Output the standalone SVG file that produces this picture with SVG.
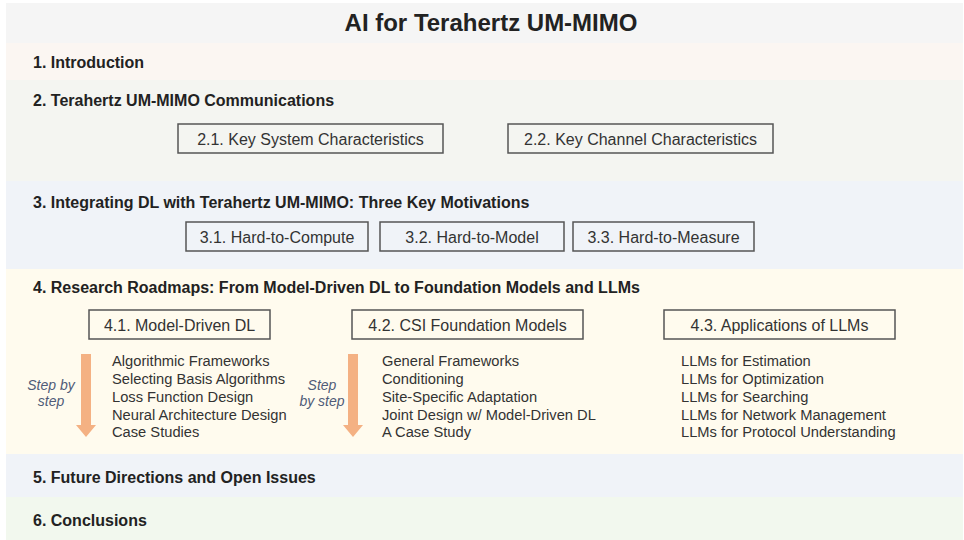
<svg xmlns="http://www.w3.org/2000/svg" width="964" height="540" viewBox="0 0 964 540">
<defs>
<style>
.title{font-family:"Liberation Sans",Arial,sans-serif;font-weight:bold;font-size:24px;fill:#222;text-anchor:middle}
.h{font-family:"Liberation Sans",Arial,sans-serif;font-weight:bold;font-size:16px;fill:#222}
.box{fill:none;stroke:#555;stroke-width:1.5}
.bt{font-family:"Liberation Sans",Arial,sans-serif;font-size:16px;fill:#333;text-anchor:middle}
.it{font-family:"Liberation Sans",Arial,sans-serif;font-size:14.7px;fill:#333}
.step{font-family:"Liberation Sans",Arial,sans-serif;font-style:italic;font-size:14px;fill:#4f5b78;text-anchor:middle}
.arrow{fill:#f4b183}
</style>
</defs>
<rect width="964" height="540" fill="#ffffff"/>
<g id="bands">
<rect x="6" y="3" width="957" height="40" fill="#f5f5f5"/>
<rect x="6" y="43" width="957" height="37" fill="#fbf6f2"/>
<rect x="6" y="80" width="957" height="101" fill="#f4f5f1"/>
<rect x="6" y="181" width="957" height="88" fill="#f0f3f8"/>
<rect x="6" y="269" width="957" height="185" fill="#fffbee"/>
<rect x="6" y="454" width="957" height="43" fill="#f0f3f8"/>
<rect x="6" y="497" width="957" height="43" fill="#f2f8ee"/>
</g>
<g id="title"><text class="title" x="491" y="31">AI for Terahertz UM-MIMO</text></g>
<g id="s1"><text class="h" x="33" y="68">1. Introduction</text></g>
<g id="s2"><text class="h" x="33" y="106">2. Terahertz UM-MIMO Communications</text></g>
<g id="s2-1"><rect class="box" x="178" y="124" width="265" height="29"/><text class="bt" x="310.5" y="144.5">2.1. Key System Characteristics</text></g>
<g id="s2-2"><rect class="box" x="508" y="124" width="265" height="29"/><text class="bt" x="640.5" y="144.5">2.2. Key Channel Characteristics</text></g>
<g id="s3"><text class="h" x="33" y="208">3. Integrating DL with Terahertz UM-MIMO: Three Key Motivations</text></g>
<g id="s3-1"><rect class="box" x="186" y="222" width="182" height="29"/><text class="bt" x="277" y="242.5">3.1. Hard-to-Compute</text></g>
<g id="s3-2"><rect class="box" x="380" y="222" width="184" height="29"/><text class="bt" x="472" y="242.5">3.2. Hard-to-Model</text></g>
<g id="s3-3"><rect class="box" x="573" y="222" width="181" height="29"/><text class="bt" x="663.5" y="242.5">3.3. Hard-to-Measure</text></g>
<g id="s4"><text class="h" x="33" y="293">4. Research Roadmaps: From Model-Driven DL to Foundation Models and LLMs</text></g>
<g id="s4-1"><rect class="box" x="89" y="310" width="181" height="29"/><text class="bt" x="179.5" y="330.5">4.1. Model-Driven DL</text></g>
<g id="s4-2"><rect class="box" x="352" y="310" width="231" height="29"/><text class="bt" x="467.5" y="330.5">4.2. CSI Foundation Models</text></g>
<g id="s4-3"><rect class="box" x="664" y="310" width="231" height="29"/><text class="bt" x="779.5" y="330.5">4.3. Applications of LLMs</text></g>
<g id="list1">
<text class="it" x="112" y="366">Algorithmic Frameworks</text>
<text class="it" x="112" y="384">Selecting Basis Algorithms</text>
<text class="it" x="112" y="402">Loss Function Design</text>
<text class="it" x="112" y="419.5">Neural Architecture Design</text>
<text class="it" x="112" y="437">Case Studies</text>
</g>
<g id="list2">
<text class="it" x="382" y="366">General Frameworks</text>
<text class="it" x="382" y="384">Conditioning</text>
<text class="it" x="382" y="402">Site-Specific Adaptation</text>
<text class="it" x="382" y="419.5">Joint Design w/ Model-Driven DL</text>
<text class="it" x="382" y="437">A Case Study</text>
</g>
<g id="list3">
<text class="it" x="681" y="366">LLMs for Estimation</text>
<text class="it" x="681" y="384">LLMs for Optimization</text>
<text class="it" x="681" y="402">LLMs for Searching</text>
<text class="it" x="681" y="419.5">LLMs for Network Management</text>
<text class="it" x="681" y="437">LLMs for Protocol Understanding</text>
</g>
<g id="step1">
<polygon class="arrow" points="81,354 91,354 91,425 96,425 86,437 76,425 81,425"/>
<text class="step" x="51" y="390">Step by</text>
<text class="step" x="51" y="406">step</text>
</g>
<g id="step2">
<polygon class="arrow" points="348,354 358,354 358,425 363,425 353,437 343,425 348,425"/>
<text class="step" x="322" y="390">Step</text>
<text class="step" x="322" y="406">by step</text>
</g>
<g id="s5"><text class="h" x="33" y="483">5. Future Directions and Open Issues</text></g>
<g id="s6"><text class="h" x="33" y="526">6. Conclusions</text></g>
</svg>
